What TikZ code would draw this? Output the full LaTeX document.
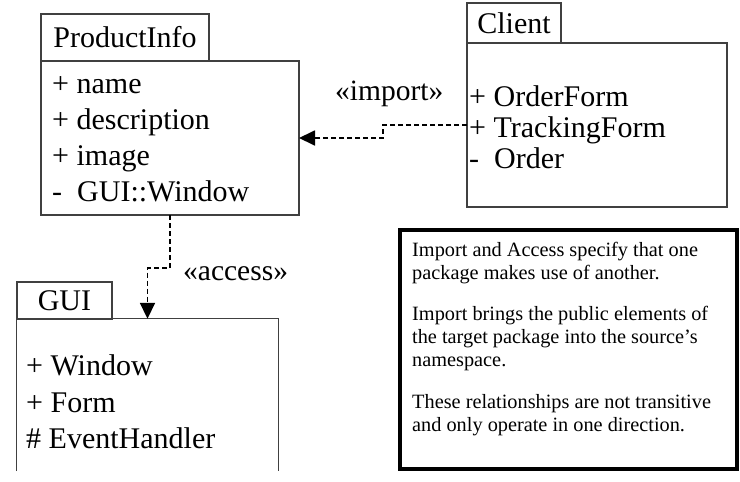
\documentclass[tikz,border=0pt]{standalone}
\usepackage{fontspec}
\setmainfont{Liberation Serif}
\usetikzlibrary{arrows.meta}

\tikzset{
  box/.style={draw=black!75, line width=1.3pt, rectangle, inner sep=0pt, outer sep=0pt},
  tabtext/.style={font=\fontsize{30}{36}\selectfont},
  item/.style={anchor=base west, inner sep=0pt, font=\fontsize{30}{36}\selectfont},
  stereo/.style={anchor=base west, inner sep=0pt, font=\fontsize{29.5}{36}\selectfont},
  noteline/.style={anchor=base west, inner sep=0pt, font=\fontsize{20.3}{23}\selectfont},
  dep/.style={line width=1.8pt, dash pattern=on 5pt off 3pt,
              -{Triangle[length=16pt,width=15pt]}},
}

\begin{document}
\begin{tikzpicture}[x=1pt, y=-1pt]
\useasboundingbox (0,0) rectangle (740,482);

% ProductInfo package
\node[box, tabtext, minimum width=168pt, minimum height=47pt] (pitab) at (125,37.5) {ProductInfo};
\node[box, minimum width=258pt, minimum height=154pt] (pibody) at (170,138) {};
\node[item] (pi1) at (52,93)  {+ name};
\node[item] (pi2) at (52,129) {+ description};
\node[item] (pi3) at (52,165) {+ image};
\node[item] (pi4) at (52,201) {-\ \ GUI::Window};

% Client package
\node[box, tabtext, minimum width=94pt, minimum height=40pt] (cltab) at (514,23) {Client};
\node[box, minimum width=260pt, minimum height=164pt] (clbody) at (597,125) {};
\node[item] (cl1) at (469,106) {+ OrderForm};
\node[item] (cl2) at (469,137) {+ TrackingForm};
\node[item] (cl3) at (469,168) {-\ \ Order};

% GUI package (open at the bottom)
\node[box, tabtext, minimum width=95pt, minimum height=37pt] (guitab) at (64.5,300.5) {GUI};
\node[rectangle, inner sep=0pt, minimum width=261pt, minimum height=152pt] (guibody) at (147.5,395) {};
\draw[draw=black!75, line width=1.3pt] (guibody.south west) -- (guibody.north west)
  -- (guibody.north east) -- (guibody.south east);
\node[item] (gui1) at (26,375) {+ Window};
\node[item] (gui2) at (26,412) {+ Form};
\node[item] (gui3) at (26,448) {\# EventHandler};

% Dependencies
\draw[dep] (clbody.west) -- ++(-84,0) |- (pibody.east);
\node[stereo] (imp) at (335,100) {«import»};
\draw[dep] (pibody.south) -- ++(0,53) -| (guibody.north);
\node[stereo] (acc) at (183,280) {«access»};

% Note
\node[draw=black, line width=3.5pt, rectangle, inner sep=0pt,
      minimum width=337pt, minimum height=239pt] (note) at (568.5,349.5) {};
\node[noteline] (n1) at (412,256) {Import and Access specify that one};
\node[noteline] (n2) at (412,279) {package makes use of another.};
\node[noteline] (n3) at (412,320) {Import brings the public elements of};
\node[noteline] (n4) at (412,343) {the target package into the source’s};
\node[noteline] (n5) at (412,366) {namespace.};
\node[noteline] (n6) at (412,408) {These relationships are not transitive};
\node[noteline] (n7) at (412,431) {and only operate in one direction.};
\end{tikzpicture}
\end{document}
